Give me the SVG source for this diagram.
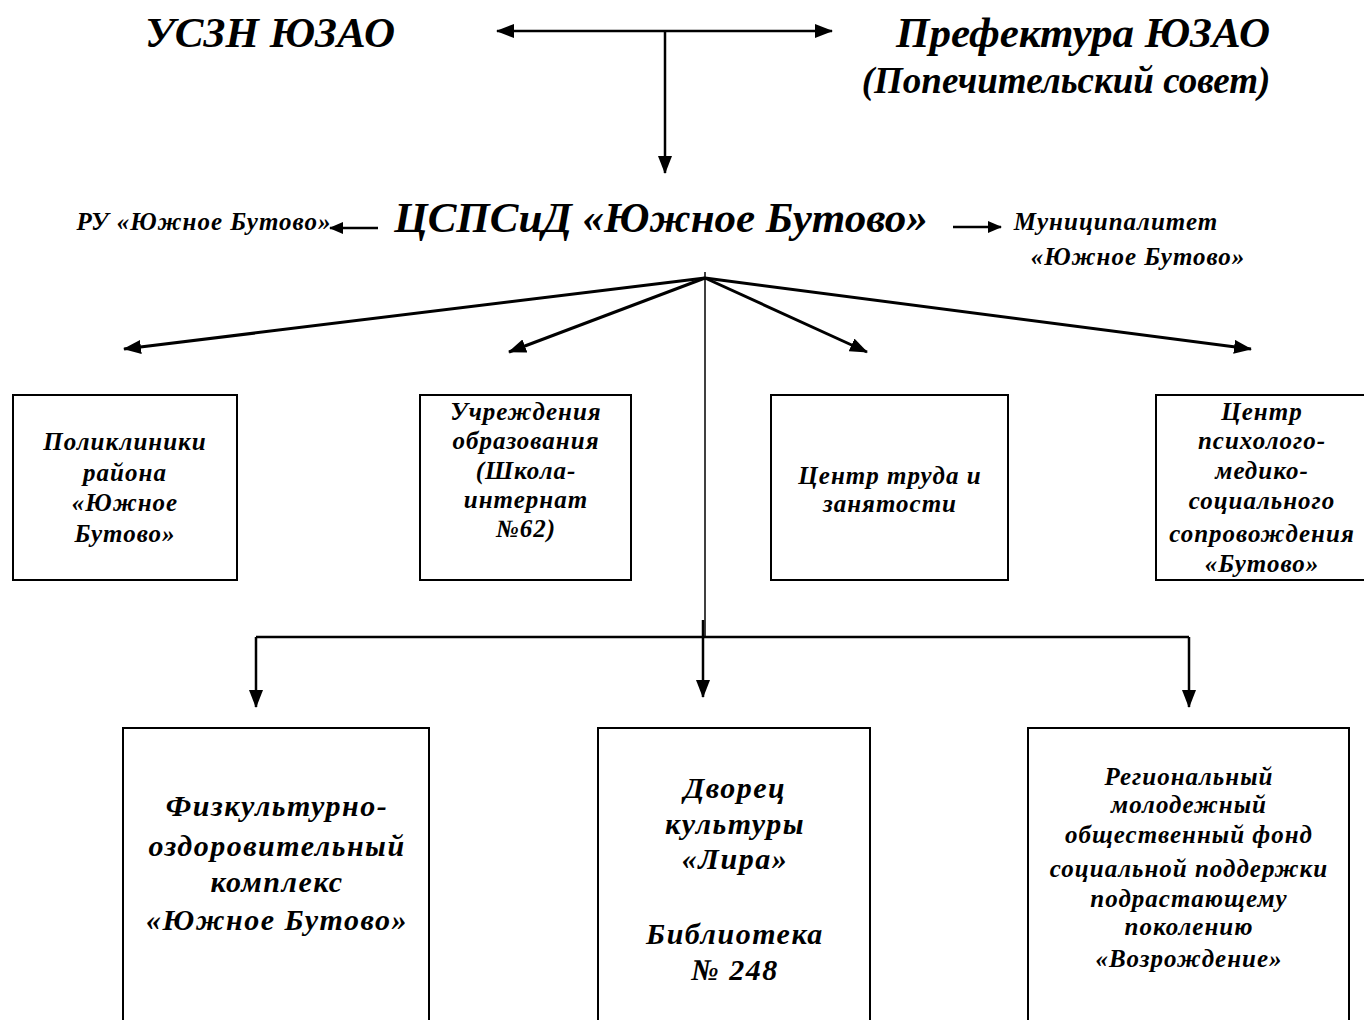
<svg xmlns="http://www.w3.org/2000/svg" width="1364" height="1020" viewBox="0 0 1364 1020">
<style>
text{font-family:"Liberation Serif","Times New Roman",serif;font-weight:bold;font-style:italic;fill:#000;text-anchor:middle}
.h1{font-size:43px}
.h2{font-size:37px}
.c{font-size:43px}
.s{font-size:25px;letter-spacing:1px}
.b{font-size:25px;letter-spacing:1px}
.bb{font-size:30px;letter-spacing:1.5px}
.box{fill:#fff;stroke:#000;stroke-width:2}
.ln{fill:none;stroke:#000;stroke-width:2.5}
.fan{fill:none;stroke:#000;stroke-width:3}
.thin{fill:none;stroke:#000;stroke-width:1.5}
</style>
<defs>
<marker id="ah" markerWidth="18" markerHeight="14" refX="17" refY="7" orient="auto" markerUnits="userSpaceOnUse"><path d="M0,0 L18,7 L0,14 z" fill="#000"/></marker>
<marker id="as" markerWidth="14" markerHeight="12" refX="13" refY="6" orient="auto" markerUnits="userSpaceOnUse"><path d="M0,0 L14,6 L0,12 z" fill="#000"/></marker>
</defs>
<rect width="1364" height="1020" fill="#fff"/>

<g id="connectors">
<path class="ln" d="M665,31 H497" marker-end="url(#ah)"/>
<path class="ln" d="M665,31 H832" marker-end="url(#ah)"/>
<path class="ln" d="M665,31 V173" marker-end="url(#ah)"/>
<path class="ln" d="M378,228 H330" marker-end="url(#as)"/>
<path class="ln" d="M953,227 H1001" marker-end="url(#as)"/>
<path class="fan" d="M705,278 L124,349" marker-end="url(#ah)"/>
<path class="fan" d="M705,278 L509,352" marker-end="url(#ah)"/>
<path class="fan" d="M705,278 L867,352" marker-end="url(#ah)"/>
<path class="fan" d="M705,278 L1251,349" marker-end="url(#ah)"/>
<path class="thin" d="M705,272 V637"/>
<path class="ln" d="M256,637 H1189"/>
<path class="ln" d="M703,620 V697" marker-end="url(#ah)"/>
<path class="ln" d="M256,637 V707" marker-end="url(#ah)"/>
<path class="ln" d="M1189,637 V707" marker-end="url(#ah)"/>
</g>

<g id="uszn"><text class="h1" x="270" y="47">УСЗН ЮЗАО</text></g>
<g id="prefektura">
<text class="h1" x="1083" y="47">Префектура ЮЗАО</text>
<text class="h2" x="1066" y="93">(Попечительский совет)</text>
</g>
<g id="cspsid"><text class="c" x="661" y="232">ЦСПСиД «Южное Бутово»</text></g>
<g id="ru"><text class="s" x="204" y="230">РУ «Южное Бутово»</text></g>
<g id="municipalitet">
<text class="s" x="1116" y="230">Муниципалитет</text>
<text class="s" x="1138" y="265">«Южное Бутово»</text>
</g>

<g id="polikliniki">
<rect class="box" x="13" y="395" width="224" height="185"/>
<text class="b" x="125" y="450">Поликлиники</text>
<text class="b" x="125" y="481">района</text>
<text class="b" x="125" y="511">«Южное</text>
<text class="b" x="125" y="542">Бутово»</text>
</g>
<g id="uchrezhdeniya">
<rect class="box" x="420" y="395" width="211" height="185"/>
<text class="b" x="526" y="420">Учреждения</text>
<text class="b" x="526" y="449">образования</text>
<text class="b" x="526" y="479">(Школа-</text>
<text class="b" x="526" y="508">интернат</text>
<text class="b" x="526" y="537">№62)</text>
</g>
<g id="centr-truda">
<rect class="box" x="771" y="395" width="237" height="185"/>
<text class="b" x="890" y="484">Центр труда и</text>
<text class="b" x="890" y="512">занятости</text>
</g>
<g id="centr-pms">
<rect class="box" x="1156" y="395" width="212" height="185"/>
<text class="b" x="1262" y="420">Центр</text>
<text class="b" x="1262" y="449">психолого-</text>
<text class="b" x="1262" y="479">медико-</text>
<text class="b" x="1262" y="509">социального</text>
<text class="b" x="1262" y="542">сопровождения</text>
<text class="b" x="1262" y="572">«Бутово»</text>
</g>

<g id="fok">
<rect class="box" x="123" y="728" width="306" height="300"/>
<text class="bb" x="277" y="816">Физкультурно-</text>
<text class="bb" x="277" y="856">оздоровительный</text>
<text class="bb" x="277" y="892">комплекс</text>
<text class="bb" x="277" y="930">«Южное Бутово»</text>
</g>
<g id="dvorec">
<rect class="box" x="598" y="728" width="272" height="300"/>
<text class="bb" x="735" y="798">Дворец</text>
<text class="bb" x="735" y="834">культуры</text>
<text class="bb" x="735" y="869">«Лира»</text>
<text class="bb" x="735" y="944">Библиотека</text>
<text class="bb" x="735" y="980">№ 248</text>
</g>
<g id="fond">
<rect class="box" x="1028" y="728" width="321" height="300"/>
<text class="b" x="1189" y="785">Региональный</text>
<text class="b" x="1189" y="813">молодежный</text>
<text class="b" x="1189" y="843">общественный фонд</text>
<text class="b" x="1189" y="877">социальной поддержки</text>
<text class="b" x="1189" y="907">подрастающему</text>
<text class="b" x="1189" y="935">поколению</text>
<text class="b" x="1189" y="967">«Возрождение»</text>
</g>
</svg>
